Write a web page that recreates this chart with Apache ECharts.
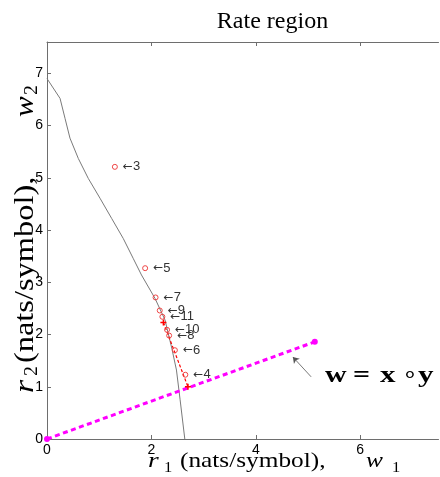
<!DOCTYPE html>
<html><head><meta charset="utf-8">
<script src="https://cdn.jsdelivr.net/npm/echarts@6/dist/echarts.min.js"></script>
<style>html,body{margin:0;padding:0;background:#fff}#c{width:440px;height:477px}</style>
</head><body><div id="c"></div>
<script>
// ---- data ----
const boundaryX = [0, 0.25, 0.345, 0.44, 0.60, 0.79, 1.015, 1.24, 1.46, 1.65, 1.81, 2.07, 2.26, 2.39, 2.48, 2.55, 2.64];
const boundaryY = [6.90, 6.52, 6.14, 5.76, 5.37, 4.99, 4.61, 4.22, 3.84, 3.46, 3.14, 2.69, 2.28, 1.74, 1.32, 0.75, 0];
const iterLabels = ['3', '5', '7', '9', '11', '10', '8', '6', '4'];
const iterX = [1.30, 1.88, 2.08, 2.16, 2.21, 2.30, 2.34, 2.45, 2.65];
const iterY = [5.21, 3.27, 2.71, 2.46, 2.34, 2.09, 1.98, 1.70, 1.23];
const redX = [2.23, 2.70];
const redY = [2.23, 1.00];
const wX = [0, 5.13];
const wY = [0, 1.86];
const arrowFrom = [5.06, 1.19];
const arrowTo = [4.71, 1.57];
const xTicks = [0, 2, 4, 6];
const yTicks = [0, 1, 2, 3, 4, 5, 6, 7];

const zip = (a, b) => a.map((v, i) => [v, b[i]]);
const axisCol = '#6e6e6e';
const chart = echarts.init(document.getElementById('c'), null, {renderer: 'canvas'});

function axisCommon(extra) {
  return Object.assign({
    type: 'value',
    axisLine: {show: true, onZero: false, lineStyle: {color: axisCol, width: 1}},
    axisTick: {show: true, inside: true, length: 4, lineStyle: {color: axisCol}},
    splitLine: {show: false}
  }, extra);
}

const serif = 'Liberation Serif';
function tok(text, x, baseline, size, style, weight, sx) {
  return {type: 'text', x: x, y: baseline - 0.305 * size, scaleX: sx || 1,
    style: {text: text, fontFamily: serif, fontSize: size, fontStyle: style || 'normal',
      fontWeight: weight || 'normal', fill: '#000', verticalAlign: 'middle', align: 'left'}};
}

const option = {
  animation: false,
  grid: {left: 47, top: 42, right: 1.5, bottom: 38, show: false},
  xAxis: [
    axisCommon({min: 0, max: 7.5, position: 'bottom',
      axisTick: {show: true, inside: true, length: 4, customValues: xTicks, lineStyle: {color: axisCol}},
      axisLabel: {show: true, customValues: xTicks, color: '#000', fontSize: 14, fontFamily: 'Liberation Sans', margin: 4}}),
    axisCommon({min: 0, max: 7.5, position: 'top',
      axisTick: {show: true, inside: true, length: 4, customValues: xTicks, lineStyle: {color: axisCol}},
      axisLabel: {show: false}})
  ],
  yAxis: [
    axisCommon({min: 0, max: 7.6, position: 'left',
      axisTick: {show: true, inside: true, length: 4, customValues: yTicks, lineStyle: {color: axisCol}},
      axisLabel: {show: true, customValues: yTicks, color: '#000', fontSize: 14, fontFamily: 'Liberation Sans', margin: 4}})
  ],
  series: [
    {type: 'line', data: zip(boundaryX, boundaryY), symbol: 'none', silent: true, smooth: false,
      lineStyle: {color: '#7a7a7a', width: 1}},
    {type: 'line', data: zip(wX, wY), symbol: 'circle', symbolSize: 6, silent: true,
      itemStyle: {color: '#ff00ff'},
      lineStyle: {color: '#ff00ff', width: 3, type: [5, 3.5], cap: 'butt'},
      markLine: {silent: true, symbol: ['none', 'arrow'], symbolSize: 6, animation: false,
        label: {show: false},
        lineStyle: {color: '#555', width: 0.8, type: 'solid'},
        data: [[{coord: arrowFrom}, {coord: arrowTo}]]}},
    {type: 'line', data: zip(redX, redY), silent: true,
      symbol: 'path://M1.5,0H2.5V1.5H4V2.5H2.5V4H1.5V2.5H0V1.5H1.5Z', symbolSize: 6,
      itemStyle: {color: '#ff0000'},
      lineStyle: {color: '#ff0000', width: 1.2, type: [3, 2]}},
    {type: 'scatter', silent: true, z: 5,
      data: iterX.map((x, i) => ({value: [x, iterY[i]], name: iterLabels[i]})),
      symbol: 'circle', symbolSize: 5,
      itemStyle: {color: 'rgba(255,255,255,0)', borderColor: '#ee4444', borderWidth: 1, opacity: 1},
      label: {show: true, position: 'right', distance: 5, formatter: p => '{a|\u2190}{d|' + p.name + '}',
        rich: {
          a: {fontFamily: 'DejaVu Sans', fontSize: 12, color: '#333'},
          d: {fontFamily: 'Liberation Sans', fontSize: 13, color: '#333'}
        }}}
  ],
  graphic: [
    // title
    {type: 'text', x: 272.5, y: 22, style: {text: 'Rate region', fontFamily: serif, fontSize: 24,
      fill: '#000', align: 'center', verticalAlign: 'middle'}},
    // x-axis name
    tok('r', 148, 468, 22, 'italic', 'normal', 1.25),
    tok('1', 164, 473, 15, 'normal', 'normal', 1.1),
    tok('(nats/symbol),', 180, 468, 22, 'normal', 'normal', 1.15),
    tok('w', 366, 468, 22, 'italic', 'normal', 1.15),
    tok('1', 392, 473, 15, 'normal', 'normal', 1.1),
    // y-axis name (rotated)
    {type: 'group', x: 34, y: 393, rotation: Math.PI / 2, children: [
      tok('r', 0, 0, 27, 'italic', 'normal', 1.25),
      tok('2', 17, 4, 18, 'normal', 'normal', 1.1),
      tok('(nats/symbol),', 30, 0, 27, 'normal', 'normal', 1.2),
      tok('w', 276, 0, 27, 'italic', 'normal', 1.15),
      tok('2', 298, 4, 18, 'normal', 'normal', 1.1)
    ]},
    // annotation
    tok('w', 325, 383, 23, 'normal', 'bold', 1.3),
    tok('=', 353, 383, 23, 'normal', 'bold', 1.3),
    tok('x', 380, 383, 23, 'normal', 'bold', 1.35),
    tok('\u2218', 402, 383, 23, 'normal', 'normal', 1.1),
    tok('y', 418, 383, 23, 'normal', 'bold', 1.35)
  ]
};
chart.setOption(option);
</script></body></html>
